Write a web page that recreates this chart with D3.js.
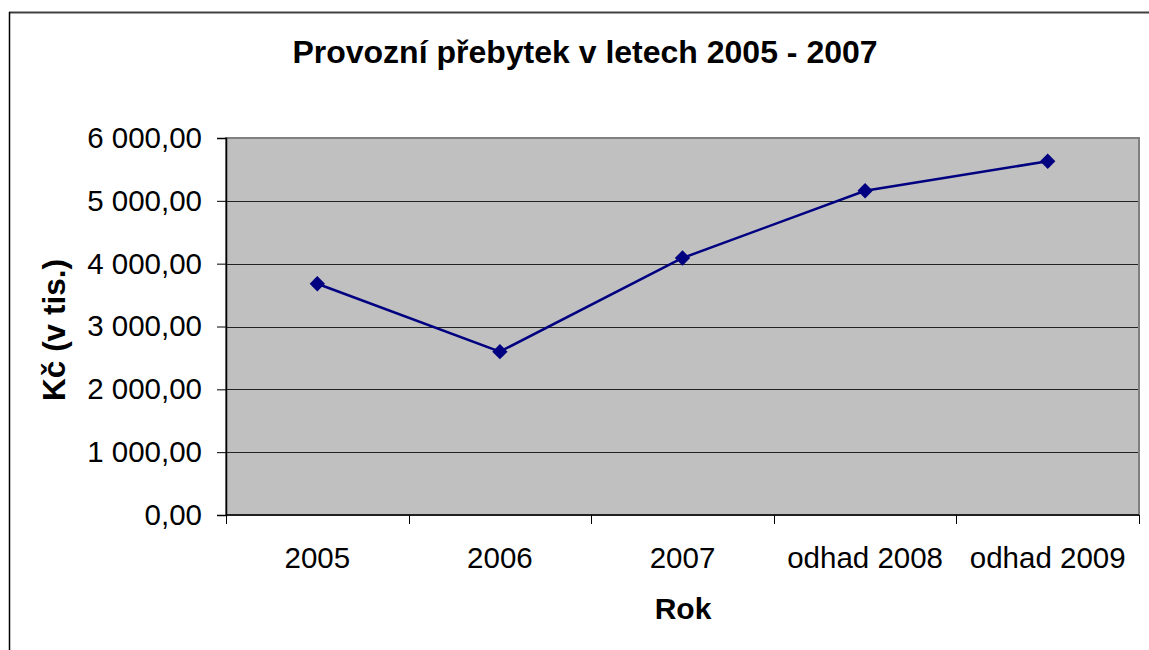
<!DOCTYPE html>
<html>
<head>
<meta charset="utf-8">
<script src="https://cdn.jsdelivr.net/npm/d3@7"></script>
<style>
  body { margin: 0; background: #fff; }
  svg { display: block; font-family: "Liberation Sans", Arial, sans-serif; }
</style>
</head>
<body>
<div id="chart"></div>
<script>
// data
const categories = ["2005", "2006", "2007", "odhad 2008", "odhad 2009"];
const values = [3680, 2600, 4090, 5160, 5630];
const yTicks = [0, 1000, 2000, 3000, 4000, 5000, 6000];
const title = "Provozní přebytek v letech 2005 - 2007";
const xTitle = "Rok";
const yTitle = "Kč (v tis.)";

const width = 1149, height = 650;
const plot = { left: 226, top: 138, right: 1139, bottom: 515 };

const svg = d3.select("#chart").append("svg")
    .attr("width", width)
    .attr("height", height);

// frame of the chart object
svg.append("line")
    .attr("x1", 9).attr("y1", 12.5).attr("x2", width + 5).attr("y2", 12.5)
    .attr("stroke", "#404040").attr("stroke-width", 2);
svg.append("line")
    .attr("x1", 9.5).attr("y1", 12).attr("x2", 9.5).attr("y2", height + 5)
    .attr("stroke", "#000").attr("stroke-width", 1.5);

const x = d3.scaleBand()
    .domain(categories)
    .range([plot.left, plot.right])
    .paddingInner(0)
    .paddingOuter(0);

const y = d3.scaleLinear()
    .domain([0, 6000])
    .range([plot.bottom, plot.top]);

const czech = d3.formatLocale({ decimal: ",", thousands: " ", grouping: [3], currency: ["", ""] });
const fmt = czech.format(",.2f");

// plot area
svg.append("rect")
    .attr("x", plot.left)
    .attr("y", plot.top)
    .attr("width", plot.right - plot.left)
    .attr("height", plot.bottom - plot.top)
    .attr("fill", "#c0c0c0")
    .attr("stroke", "#808080")
    .attr("stroke-width", 2);

// gridlines
svg.append("g")
    .selectAll("line")
    .data(yTicks.filter(d => d > 0 && d < 6000))
    .enter()
    .append("line")
    .attr("x1", plot.left)
    .attr("x2", plot.right - 1)
    .attr("y1", d => Math.round(y(d)) + 0.5)
    .attr("y2", d => Math.round(y(d)) + 0.5)
    .attr("stroke", "#222")
    .attr("stroke-width", 1);

// y axis
const yAxis = svg.append("g")
    .attr("transform", `translate(${plot.left},0)`)
    .call(d3.axisLeft(y).tickValues(yTicks).tickFormat(fmt).tickSize(9).tickPadding(15));
yAxis.select(".domain").attr("stroke", "#000").attr("stroke-width", 1.5);
yAxis.selectAll(".tick line").attr("stroke", "#000");
yAxis.selectAll(".tick text")
    .attr("font-size", 29.5)
    .attr("font-family", "Liberation Sans, Arial, sans-serif")
    .attr("fill", "#000");

// x axis (ticks on category boundaries)
const xAxis = svg.append("g")
    .attr("transform", `translate(0,${plot.bottom})`);
xAxis.append("line")
    .attr("x1", plot.left).attr("x2", plot.right)
    .attr("y1", 0).attr("y2", 0)
    .attr("stroke", "#000").attr("stroke-width", 1.5);
const bounds = categories.map(c => x(c)).concat([plot.right]);
xAxis.selectAll("line.tick")
    .data(bounds)
    .enter()
    .append("line")
    .attr("class", "tick")
    .attr("x1", d => Math.round(d) + 0.5)
    .attr("x2", d => Math.round(d) + 0.5)
    .attr("y1", 0)
    .attr("y2", 9)
    .attr("stroke", "#000");
xAxis.selectAll("text")
    .data(categories)
    .enter()
    .append("text")
    .attr("x", d => x(d) + x.bandwidth() / 2)
    .attr("y", 53)
    .attr("text-anchor", "middle")
    .attr("font-size", 29.5)
    .attr("fill", "#000")
    .text(d => d);

// line + markers
const line = d3.line()
    .x((d, i) => x(categories[i]) + x.bandwidth() / 2)
    .y(d => y(d));

svg.append("path")
    .datum(values)
    .attr("d", line)
    .attr("fill", "none")
    .attr("stroke", "#000080")
    .attr("stroke-width", 2.5);

svg.selectAll("path.marker")
    .data(values)
    .enter()
    .append("path")
    .attr("class", "marker")
    .attr("d", d3.symbol().type(d3.symbolDiamond2).size(150))
    .attr("transform", (d, i) => `translate(${x(categories[i]) + x.bandwidth() / 2},${y(d)})`)
    .attr("fill", "#000080");

// titles
svg.append("text")
    .attr("x", 585)
    .attr("y", 63)
    .attr("text-anchor", "middle")
    .attr("font-size", 32)
    .attr("font-weight", "bold")
    .text(title);

svg.append("text")
    .attr("x", 683)
    .attr("y", 619)
    .attr("text-anchor", "middle")
    .attr("font-size", 30)
    .attr("font-weight", "bold")
    .text(xTitle);

svg.append("text")
    .attr("transform", "translate(65,330) rotate(-90)")
    .attr("text-anchor", "middle")
    .attr("font-size", 31.5)
    .attr("font-weight", "bold")
    .text(yTitle);
</script>
</body>
</html>
